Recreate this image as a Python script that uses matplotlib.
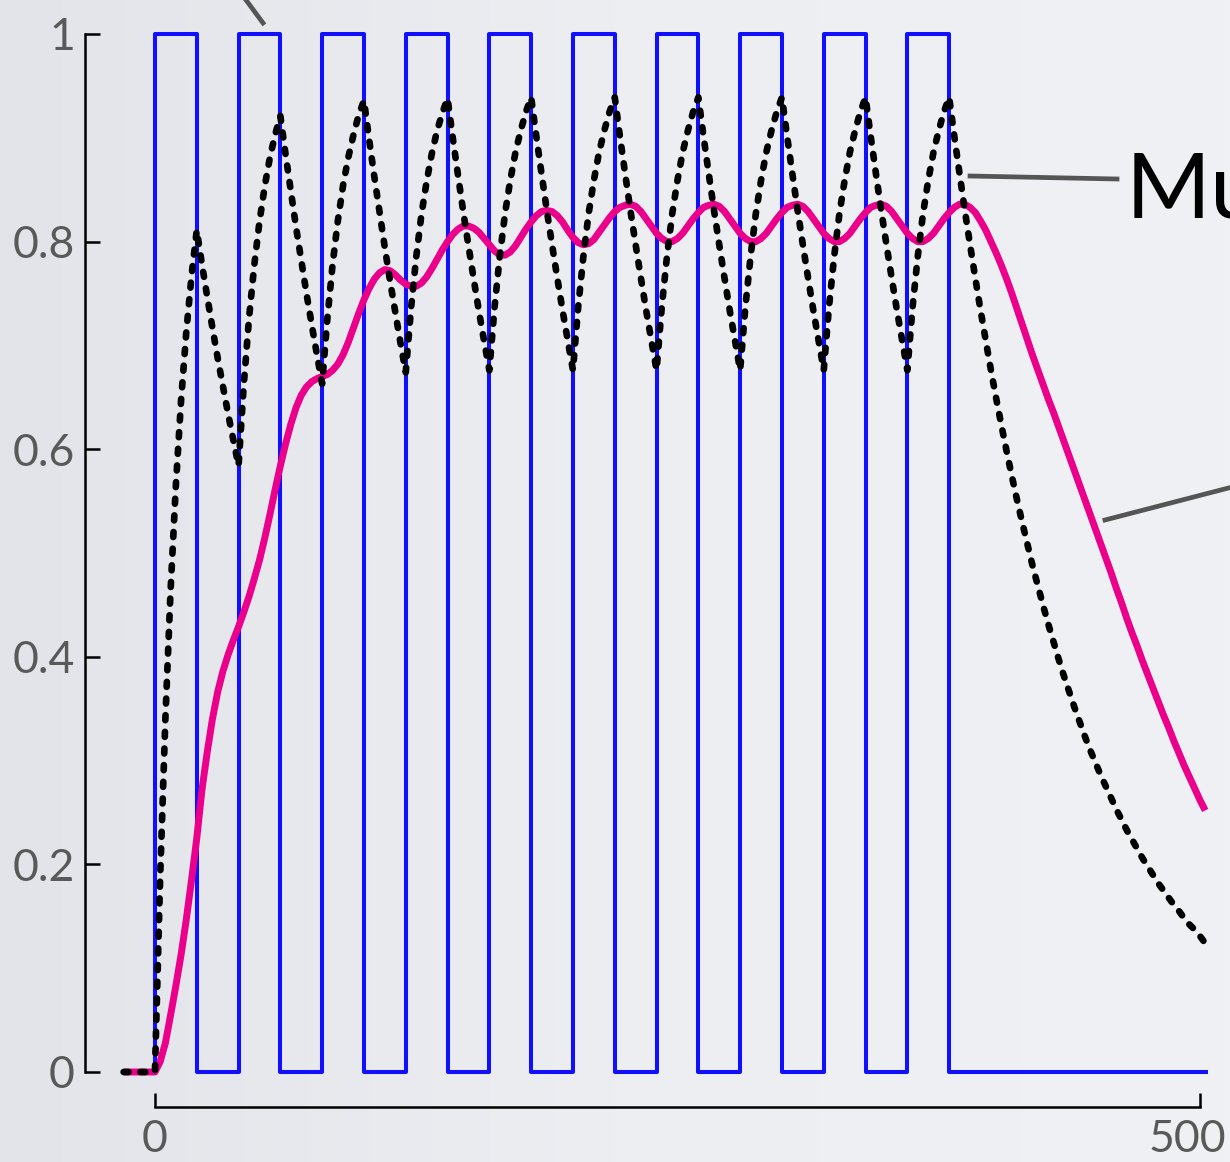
import numpy as np
import matplotlib.pyplot as plt
from matplotlib.lines import Line2D
from matplotlib.colors import LinearSegmentedColormap

# time grid: every 2.5 units from -15 to 502.5
t = np.arange(-15, 503, 2.5)
lead = [0, 0, 0, 0, 0, 0]          # flat part before t = 0

# square pulse input
pulse_on = [0, 40, 80, 120, 160, 200, 240, 280, 320, 360]
pulse_off = [20, 60, 100, 140, 180, 220, 260, 300, 340, 380]
t_start, t_stop = -14, 503

# dotted (fast) response
fast_head = [0,
             0.188, 0.341, 0.465, 0.565, 0.647, 0.713, 0.767, 0.811,
             0.778, 0.747, 0.717, 0.688, 0.661, 0.634, 0.609, 0.584,
             0.662, 0.726, 0.777, 0.819, 0.853, 0.881, 0.903, 0.921,
             0.884, 0.849, 0.814, 0.782, 0.750, 0.720, 0.691, 0.663,
             0.726, 0.778, 0.820, 0.854, 0.881, 0.903, 0.922, 0.936,
             0.898, 0.862, 0.828, 0.794, 0.762, 0.732, 0.702, 0.674,
             0.735, 0.785, 0.826, 0.858, 0.885, 0.907, 0.924, 0.938,
             0.900, 0.864, 0.829, 0.796, 0.764, 0.733, 0.704, 0.676,
             0.737, 0.786, 0.827, 0.859, 0.886, 0.907, 0.925, 0.939]
fast_cycle = [0.901, 0.865, 0.830, 0.797, 0.765, 0.734, 0.705, 0.676,
              0.737, 0.786, 0.827, 0.859, 0.886, 0.907, 0.925, 0.939]
fast_tail = [0.901, 0.865, 0.830, 0.797, 0.765, 0.734, 0.705, 0.676,
             0.649, 0.623, 0.598, 0.574, 0.551, 0.529, 0.508, 0.487,
             0.468, 0.449, 0.431, 0.414, 0.397, 0.381, 0.366, 0.351,
             0.337, 0.323, 0.310, 0.298, 0.286, 0.275, 0.264, 0.253,
             0.243, 0.233, 0.224, 0.215, 0.206, 0.198, 0.190, 0.182,
             0.175, 0.168, 0.161, 0.155, 0.148, 0.142, 0.137, 0.131,
             0.124]
fast = lead + fast_head + fast_cycle * 5 + fast_tail

# pink (slow) response
slow_head = [0, 0.010, 0.028, 0.055, 0.083, 0.113, 0.147, 0.185,
             0.225, 0.272, 0.308, 0.340, 0.366, 0.386, 0.402, 0.416,
             0.429, 0.443, 0.458, 0.475, 0.493, 0.514, 0.537, 0.561,
             0.584, 0.605, 0.624, 0.640, 0.652, 0.660, 0.665, 0.668,
             0.670, 0.672, 0.676, 0.682, 0.691, 0.703, 0.717, 0.731,
             0.744, 0.755, 0.764, 0.770, 0.773, 0.772, 0.768, 0.763,
             0.759, 0.757, 0.757, 0.760, 0.766, 0.774, 0.783, 0.792,
             0.800, 0.807, 0.812, 0.815, 0.815, 0.813, 0.809, 0.803,
             0.797, 0.791, 0.787, 0.787, 0.790, 0.796, 0.804, 0.812,
             0.819, 0.825, 0.829, 0.830, 0.829, 0.825, 0.819, 0.811,
             0.804, 0.799, 0.797, 0.798, 0.802, 0.809, 0.816, 0.823,
             0.829, 0.833]
slow_cycle = [0.835, 0.836, 0.834, 0.829, 0.822, 0.815, 0.808, 0.803,
              0.800, 0.800, 0.803, 0.808, 0.815, 0.822, 0.828, 0.833]
slow_tail = [0.836, 0.836, 0.833, 0.828, 0.820, 0.811, 0.800, 0.789,
             0.777, 0.764, 0.750, 0.735, 0.720, 0.705, 0.690, 0.676,
             0.662, 0.648, 0.635, 0.621, 0.607, 0.593, 0.579, 0.565,
             0.551, 0.537, 0.523, 0.509, 0.495, 0.481, 0.466, 0.452,
             0.437, 0.423, 0.410, 0.396, 0.383, 0.370, 0.357, 0.344,
             0.332, 0.319, 0.307, 0.295, 0.284, 0.273, 0.262, 0.252]
slow = lead + slow_head + slow_cycle * 4 + slow_tail

yticks = [0, 0.2, 0.4, 0.6, 0.8, 1]
ytick_labels = ['0', '0.2', '0.4', '0.6', '0.8', '1']
xticks = [0, 500]
xtick_labels = ['0', '500']

# step path of the pulse train
sq_x, sq_y = [t_start], [0]
for a, b in zip(pulse_on, pulse_off):
    sq_x += [a, a, b, b]
    sq_y += [0, 1, 1, 0]
sq_x.append(t_stop)
sq_y.append(0)

W, H = 1230, 1162
fig = plt.figure(figsize=(W / 100, H / 100), dpi=100)

# soft grey background gradient
bg = fig.add_axes([0, 0, 1, 1], zorder=-1)
grad = np.linspace(0, 1, 256).reshape(1, -1)
cm = LinearSegmentedColormap.from_list('bg', ['#e2e4e9', '#eceef2', '#f0f1f4'])
bg.imshow(grad, aspect='auto', cmap=cm, extent=[0, 1, 0, 1])
bg.axis('off')

# x=-15..505 and y=0..1 placed where they sit in the picture
ax = fig.add_axes([123.6 / W, (H - 1072) / H, 1086.8 / W, 1038 / H])
ax.set_xlim(-15, 505)
ax.set_ylim(0, 1)
ax.patch.set_alpha(0)

ax.plot(sq_x, sq_y, color='#1010ff', lw=2.9, clip_on=False, zorder=2)
ax.plot(t, slow, color='#eb008b', lw=5, solid_capstyle='butt', clip_on=False, zorder=3)
ax.plot(t, fast, color='black', lw=4.8, linestyle=(0, (0.75, 1.75)),
        dash_capstyle='round', clip_on=False, zorder=4)

for s in ['top', 'right']:
    ax.spines[s].set_visible(False)
ax.spines['left'].set_position(('outward', 28))
ax.spines['bottom'].set_position(('outward', 25))
ax.spines['left'].set_bounds(0, 1)
ax.spines['bottom'].set_bounds(0, 500)
for s in ['left', 'bottom']:
    ax.spines[s].set_linewidth(1.8)

font = dict(family=['Lato', 'DejaVu Sans'], size=32, color='#595959')
ax.set_yticks(yticks)
ax.set_yticklabels(ytick_labels, fontdict=font)
ax.set_xticks(xticks)
ax.set_xticklabels(['0', ''], fontdict=font)
ax.tick_params(axis='y', direction='in', length=11, width=1.8, pad=7)
ax.tick_params(axis='x', direction='in', length=10, width=1.8, pad=9)
# right-hand label nudged left so it stays inside the frame
ax.annotate(xtick_labels[1], xy=(xticks[1], 0), xycoords=('data', 'axes fraction'),
            xytext=(-9, -34), textcoords='offset points', ha='center', va='top', **font)

# annotation leader lines and the clipped label
def fig_line(p0, p1):
    fig.add_artist(Line2D([p0[0] / W, p1[0] / W], [1 - p0[1] / H, 1 - p1[1] / H],
                          color='#555555', lw=3.4, transform=fig.transFigure))

fig_line((263, 23), (246, 0))
fig_line((970, 176), (1117, 179))
fig_line((1105, 520), (1240, 485))
fig.text(1126 / W, 1 - 217 / H, 'Mu', fontsize=66, color='black',
         family=['Lato', 'DejaVu Sans'], va='baseline', ha='left')

fig.savefig('out.png', dpi=100)
